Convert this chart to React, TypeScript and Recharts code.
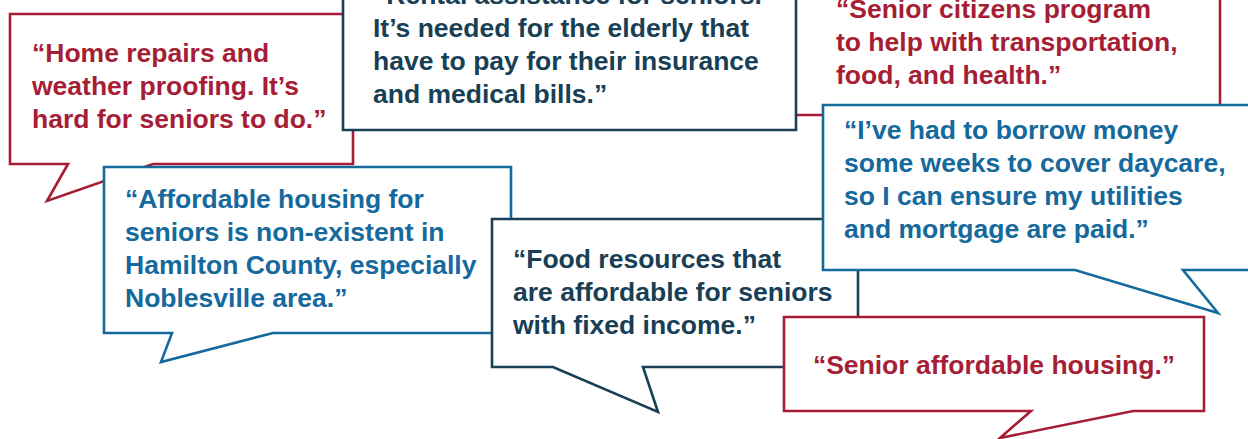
import React from 'react';
import { ScatterChart, Scatter, XAxis, YAxis } from 'recharts';

const W = 1248;
const H = 439;
const KX = W / (W - 0);
const KY = H / (H - 0);

// quotes, back to front
const quotes: string[][] = [
    ['“Home repairs and', 'weather proofing. It’s', 'hard for seniors to do.”'],
    ['“Senior citizens program', 'to help with transportation,', 'food, and health.”'],
    ['“Rental assistance for seniors.', 'It’s needed for the elderly that', 'have to pay for their insurance', 'and medical bills.”'],
    ['“Affordable housing for', 'seniors is non-existent in', 'Hamilton County, especially', 'Noblesville area.”'],
    ['“Food resources that', 'are affordable for seniors', 'with fixed income.”'],
    ['“I’ve had to borrow money', 'some weeks to cover daycare,', 'so I can ensure my utilities', 'and mortgage are paid.”'],
    ['“Senior affordable housing.”'],
];

const tones = ['red', 'red', 'navy', 'blue', 'navy', 'blue', 'red'];

// text anchor (x, first baseline)
const textAt: [number, number][] = [
    [32, 62], [836, 18], [373, 4], [125, 208], [513, 268], [844, 139], [994, 374],
];
const align = ['start', 'start', 'start', 'start', 'start', 'start', 'middle'];

// box: x0, y0, x1, y1
const boxes: [number, number, number, number][] = [
    [10, 14, 353, 164],
    [760, -60, 1220, 115],
    [343, -60, 796, 130],
    [104, 167, 511, 333],
    [492, 219, 858, 367],
    [823, 105, 1262, 270],
    [784, 317, 1204, 411],
];

// tail: base left x, tip x, tip y, base right x
const tails: ([number, number, number, number] | null)[] = [
    [68, 47, 201, 153],
    null,
    null,
    [172, 161, 362, 273],
    [553, 658, 412, 643],
    [1075, 1218, 313, 1183],
    [1031, 1000, 438, 1133],
];

const colors: Record<string, string> = { red: '#a51e36', navy: '#183f55', blue: '#15699c' };

const data = quotes.map((lines, i) => ({
    x: textAt[i][0],
    y: textAt[i][1],
    lines,
    tone: tones[i],
    anchor: align[i],
    box: boxes[i],
    tail: tails[i],
}));

const Bubble = (props: any) => {
    const { cx, cy, payload } = props;
    const sx = (v: number) => cx + (v - payload.x) * KX;
    const sy = (v: number) => cy + (v - payload.y) * KY;
    const [x0, y0, x1, y1] = payload.box;
    const c = colors[payload.tone];
    let d = `M${sx(x0)},${sy(y0)} L${sx(x1)},${sy(y0)} L${sx(x1)},${sy(y1)}`;
    if (payload.tail) {
        const [a, tx, ty, b] = payload.tail;
        d += ` L${sx(b)},${sy(y1)} L${sx(tx)},${sy(ty)} L${sx(a)},${sy(y1)}`;
    }
    d += ` L${sx(x0)},${sy(y1)} Z`;
    return (
        <g>
            <path d={d} fill="#fff" stroke={c} strokeWidth={2.6} strokeLinejoin="miter" />
            <text
                x={cx}
                y={cy}
                fill={c}
                textAnchor={payload.anchor}
                fontFamily="'Liberation Sans', Arial, sans-serif"
                fontWeight="bold"
                fontSize={26.5}
            >
                {payload.lines.map((l: string, i: number) => (
                    <tspan key={i} x={cx} dy={i === 0 ? 0 : 33}>{l}</tspan>
                ))}
            </text>
        </g>
    );
};

export default function App() {
    return (
        <div style={{ position: 'absolute', left: 0, top: 0, width: W, height: H, background: '#fff' }}>
            <ScatterChart width={W} height={H} margin={{ top: 0, right: 0, bottom: 0, left: 0 }}>
                <XAxis type="number" dataKey="x" domain={[0, W]} hide allowDataOverflow />
                <YAxis type="number" dataKey="y" domain={[0, H]} reversed hide allowDataOverflow />
                <Scatter data={data} shape={Bubble} isAnimationActive={false} />
            </ScatterChart>
        </div>
    );
}
